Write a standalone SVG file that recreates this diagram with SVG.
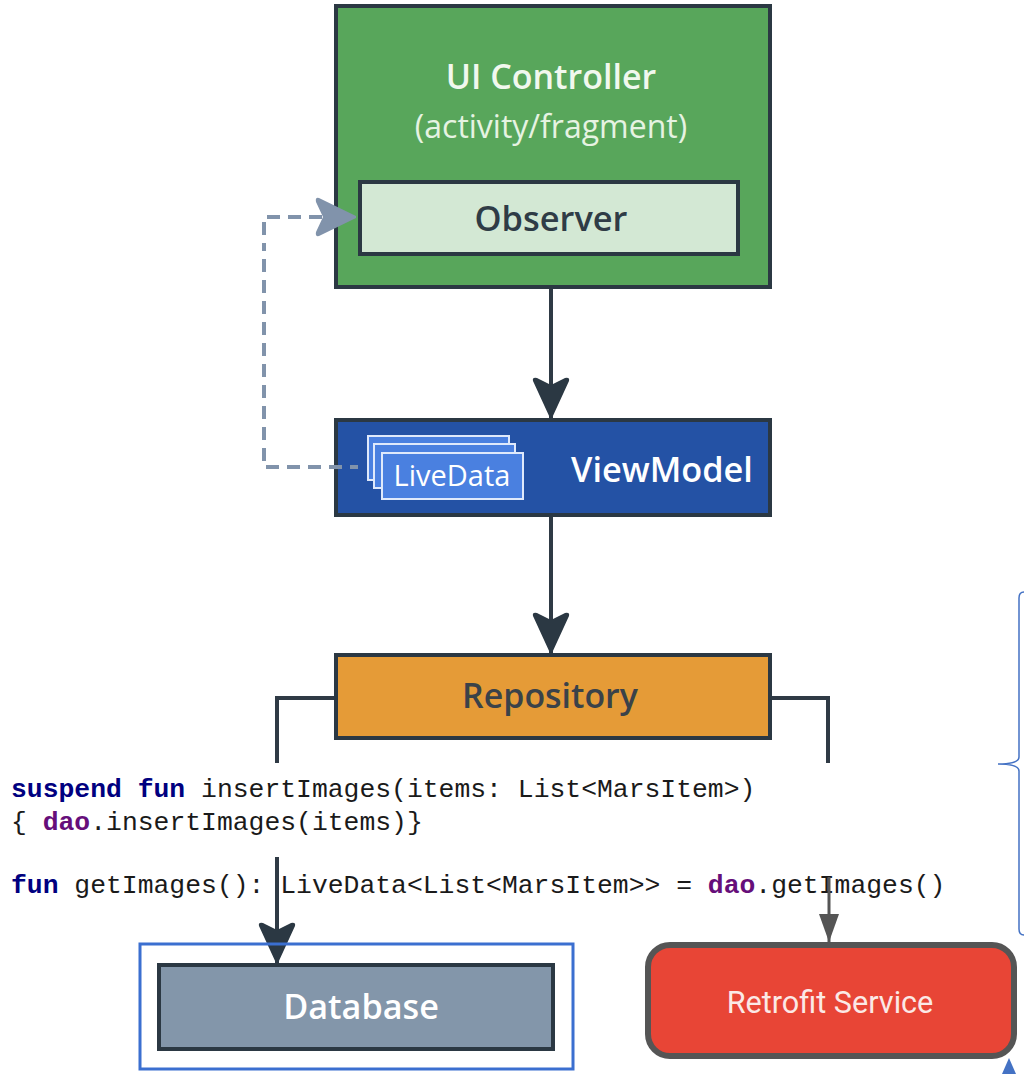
<svg xmlns="http://www.w3.org/2000/svg" width="1024" height="1074" viewBox="0 0 1024 1074">
  <defs>
    <style>
      .lbl { font-family: "Open Sans", "Noto Sans", sans-serif; font-weight: 600; text-anchor: middle; }
      .reg { font-weight: 400; }
      .box { stroke: #2b3843; stroke-width: 4; }
      .wire { fill: none; stroke: #2f3a45; stroke-width: 4; }
      .code { font-family: "Liberation Mono", "Courier New", monospace; font-size: 26.4px; fill: #1a1a1a; }
      .kw { fill: #000080; font-weight: bold; }
      .fld { fill: #660e7a; font-weight: bold; }
      .card { fill: #4a80e0; stroke: #dfe9fb; stroke-width: 2; }
    </style>
    <!-- dark arrowhead with a notched back -->
    <marker id="head" viewBox="0 0 40 42" refX="20" refY="41" markerWidth="40" markerHeight="42" markerUnits="userSpaceOnUse" orient="0">
      <path d="M2,4 Q1,0 6,1 L20,8 L34,1 Q39,0 38,4 L21,41 L19,41 Z" fill="#2b3843"/>
    </marker>
    <!-- small grey arrowhead -->
    <marker id="headSmall" viewBox="0 0 20 28" refX="10" refY="28" markerWidth="20" markerHeight="28" markerUnits="userSpaceOnUse" orient="0">
      <path d="M0,0 L20,0 L10,28 Z" fill="#555555"/>
    </marker>
    <!-- slate-blue arrowhead for the observer link -->
    <marker id="headObs" viewBox="0 0 42 42" refX="41" refY="21" markerWidth="42" markerHeight="42" markerUnits="userSpaceOnUse" orient="0">
      <path d="M4,2 Q0,1 1,6 L8,21 L1,36 Q0,41 4,40 L41,22 L41,20 Z" fill="#8193ab"/>
    </marker>
  </defs>

  <rect width="1024" height="1074" fill="#ffffff"/>

  <!-- UI controller with its observer -->
  <g id="ui-controller">
    <rect class="box" x="336" y="6" width="434" height="281" fill="#58a65b"/>
    <text class="lbl" x="551" y="89" font-size="34" fill="#f1f8ee">UI Controller</text>
    <text class="lbl reg" x="551" y="138" font-size="32" fill="#e6f3e2">(activity/fragment)</text>
  </g>
  <g id="observer">
    <rect x="360" y="182" width="378" height="72" fill="#d3e8d4" stroke="#2b3843" stroke-width="4"/>
    <text class="lbl" x="551" y="231" font-size="34.4" fill="#2f3c46">Observer</text>
  </g>

  <!-- view model holding live data -->
  <g id="viewmodel">
    <rect class="box" x="336" y="420" width="434" height="95" fill="#2452a5"/>
    <text class="lbl" x="662" y="482" font-size="34.3" fill="#ffffff">ViewModel</text>
  </g>
  <g id="livedata">
    <rect class="card" x="368" y="436" width="141" height="44"/>
    <rect class="card" x="374" y="444" width="141" height="44"/>
    <rect class="card" x="382" y="453" width="141" height="46"/>
    <text class="lbl reg" x="452" y="486" font-size="29" fill="#ffffff">LiveData</text>
  </g>

  <!-- repository -->
  <g id="repository">
    <rect class="box" x="336" y="655" width="434" height="83" fill="#e59b37"/>
    <text class="lbl" x="550" y="708" font-size="33.9" fill="#3a4249">Repository</text>
  </g>

  <!-- repository source snippet -->
  <g id="code">
    <text class="code" x="11" y="797"><tspan class="kw">suspend fun</tspan> insertImages(items: List&lt;MarsItem&gt;)</text>
    <text class="code" x="11" y="830">{ <tspan class="fld">dao</tspan>.insertImages(items)}</text>
    <text class="code" x="11" y="893"><tspan class="kw">fun</tspan> getImages(): LiveData&lt;List&lt;MarsItem&gt;&gt; = <tspan class="fld">dao</tspan>.getImages()</text>
  </g>

  <!-- connectors -->
  <g id="connectors">
    <line class="wire" x1="551" y1="289" x2="551" y2="418" marker-end="url(#head)"/>
    <line class="wire" x1="551" y1="517" x2="551" y2="653" marker-end="url(#head)"/>
    <polyline class="wire" points="334,698 277,698 277,763"/>
    <polyline class="wire" points="772,698 828,698 828,763"/>
    <polyline points="358,467 264,467 264,217 330,217" fill="none" stroke="#8193ab" stroke-width="4" stroke-dasharray="8,8,13,8,13,8,13,8,13,8,13,8,13,8,13,8,13,8,13,8,13,8,13,8,13,8,13,8,13,8"/>
    <line x1="320" y1="217" x2="356" y2="217" stroke="none" marker-end="url(#headObs)"/>
    <line class="wire" x1="277" y1="857" x2="277" y2="963" marker-end="url(#head)"/>
    <line x1="829" y1="877" x2="829" y2="942" stroke="#555555" stroke-width="3" marker-end="url(#headSmall)"/>
  </g>

  <!-- database -->
  <g id="database">
    <rect x="140" y="944" width="433" height="125" fill="none" stroke="#3b6fd0" stroke-width="3"/>
    <rect class="box" x="159" y="965" width="394" height="84" fill="#8396aa"/>
    <text class="lbl" x="361" y="1019" font-size="34.2" fill="#ffffff">Database</text>
  </g>

  <!-- retrofit service -->
  <g id="retrofit">
    <rect x="648" y="945" width="366" height="111" rx="22" fill="#e84536" stroke="#555555" stroke-width="6"/>
    <text x="830" y="1013" font-family="Roboto, 'Noto Sans', sans-serif" font-size="30.6" text-anchor="middle" fill="#fbe9e6">Retrofit Service</text>
  </g>

  <!-- brace grouping the lower section -->
  <g id="brace">
    <path d="M1024,592 Q1019,592 1019,598 L1019,757 Q1019,764 998,764 Q1019,764 1019,771 L1019,929 Q1019,935 1024,935" fill="none" stroke="#4472c4" stroke-width="1.5"/>
    <path d="M1009,1058 L1016,1074 L1002,1074 Z" fill="#4472c4"/>
  </g>
</svg>
